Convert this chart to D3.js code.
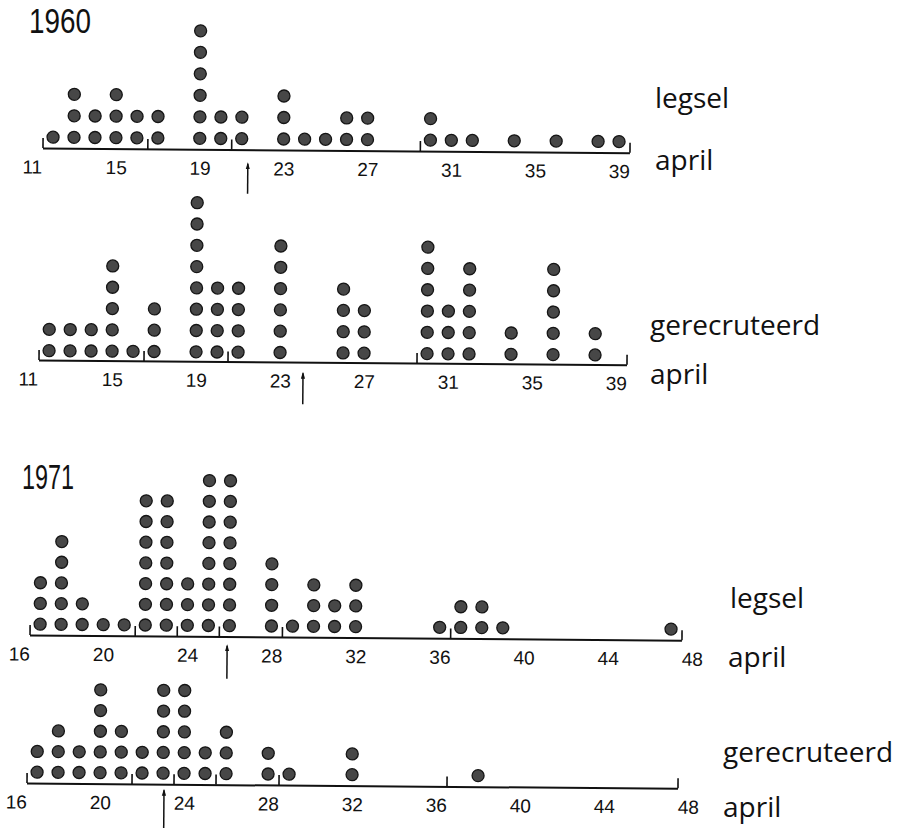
<!DOCTYPE html>
<html>
<head>
<meta charset="utf-8">
<script src="https://cdn.jsdelivr.net/npm/d3@7"></script>
<style>
  body { margin: 0; background: #fff; }
  svg { display: block; }
  .tick text { font-family: "Liberation Sans", Arial, sans-serif; font-size: 19px; fill: #111; }
  .side { font-family: "Open Sans", "Noto Sans", sans-serif; font-size: 28px; fill: #111; }
  .year { font-family: "Liberation Sans", Arial, sans-serif; font-size: 35px; fill: #111; }
</style>
</head>
<body>
<div id="chart"></div>
<script>
var width = 908,
    height = 828;

// 1960
var labels1960 = [11, 15, 19, 23, 27, 31, 35, 39];
var breaks1960 = [11.5, 16.5, 20.5, 29.5, 39.5];
var legselDays1960 = [12, 13, 14, 15, 16, 17, 19, 20, 21, 23, 24, 25, 26, 27, 30, 31, 32, 34, 36, 38, 39];
var legselCounts1960 = [1, 3, 2, 3, 2, 2, 6, 2, 2, 3, 1, 1, 2, 2, 2, 1, 1, 1, 1, 1, 1];
var recrDays1960 = [12, 13, 14, 15, 16, 17, 19, 20, 21, 23, 26, 27, 30, 31, 32, 34, 36, 38];
var recrCounts1960 = [2, 2, 2, 5, 1, 3, 8, 4, 4, 6, 4, 3, 6, 3, 5, 2, 5, 2];

// 1971
var labels1971 = [16, 20, 24, 28, 32, 36, 40, 44, 48];
var breaks1971 = [16.5, 21.5, 23.5, 25.5, 28.5, 36.5, 47.5];
var legselDays1971 = [17, 18, 19, 20, 21, 22, 23, 24, 25, 26, 28, 29, 30, 31, 32, 36, 37, 38, 39, 47];
var legselCounts1971 = [3, 5, 2, 1, 1, 7, 7, 3, 8, 8, 4, 1, 3, 2, 3, 1, 2, 2, 1, 1];
var recrDays1971 = [17, 18, 19, 20, 21, 22, 23, 24, 25, 26, 28, 29, 32, 38];
var recrCounts1971 = [2, 3, 2, 5, 3, 2, 5, 5, 2, 3, 2, 1, 2, 1];

// arrow dates (one per panel)
var arrowDays = [21.3, 24.1, 25.9, 23.05];

var svg = d3.select("#chart").append("svg")
    .attr("width", width)
    .attr("height", height);

var panels = [
  { days: legselDays1960, counts: legselCounts1960, labels: labels1960, breaks: breaks1960,
    domain: [11, 39], range: [32, 619], axisY: 148, dotGap: 11, step: 21.5,
    arrow: arrowDays[0], arrowTop: 12, arrowLen: 32,
    name: "legsel", nameX: 655, nameY: 108, aprilX: 655, aprilY: 170 },
  { days: recrDays1960, counts: recrCounts1960, labels: labels1960, breaks: breaks1960,
    domain: [11, 39], range: [28, 616], axisY: 360, dotGap: 9.5, step: 21.3,
    arrow: arrowDays[1], arrowTop: 9, arrowLen: 33,
    name: "gerecruteerd", nameX: 650, nameY: 335, aprilX: 650, aprilY: 384 },
  { days: legselDays1971, counts: legselCounts1971, labels: labels1971, breaks: breaks1971,
    domain: [16, 48], range: [19, 692], axisY: 635, dotGap: 11, step: 20.7,
    arrow: arrowDays[2], arrowTop: 7, arrowLen: 35,
    name: "legsel", nameX: 730, nameY: 608, aprilX: 728, aprilY: 667 },
  { days: recrDays1971, counts: recrCounts1971, labels: labels1971, breaks: breaks1971,
    domain: [16, 48], range: [16, 688], axisY: 783, dotGap: 11, step: 20.7,
    arrow: arrowDays[3], arrowTop: 4, arrowLen: 40,
    name: "gerecruteerd", nameX: 723, nameY: 762, aprilX: 723, aprilY: 817 }
];

// condensed year titles
svg.append("text").attr("class", "year").attr("x", 29).attr("y", 33)
    .attr("textLength", 62).attr("lengthAdjust", "spacingAndGlyphs").text("1960");
svg.append("text").attr("class", "year").attr("x", 22).attr("y", 489)
    .attr("textLength", 52).attr("lengthAdjust", "spacingAndGlyphs").text("1971");

svg.append("defs").append("marker")
    .attr("id", "arrowhead")
    .attr("viewBox", "-5 -10 10 10")
    .attr("refX", 0)
    .attr("refY", -8)
    .attr("markerWidth", 7)
    .attr("markerHeight", 7)
    .attr("orient", "0")
    .attr("markerUnits", "userSpaceOnUse")
  .append("path")
    .attr("d", "M -3,0 L 0,-10 L 3,0 Z")
    .attr("fill", "#111");

panels.forEach(function(p) {
  var x = d3.scaleLinear().domain(p.domain).range(p.range);

  // the scan is a little tilted, keep that
  var g = svg.append("g")
      .attr("transform", "translate(0," + p.axisY + ") rotate(0.45," + p.range[0] + ",0)");

  // line with break ticks
  var bx = d3.scaleLinear()
      .domain([p.breaks[0], p.breaks[p.breaks.length - 1]])
      .range([x(p.breaks[0]), x(p.breaks[p.breaks.length - 1])]);

  g.append("g")
      .call(d3.axisTop(bx).tickValues(p.breaks).tickSize(10).tickSizeOuter(0).tickFormat(""))
      .call(function(a) {
        a.select(".domain").attr("stroke", "#111").attr("stroke-width", 2);
        a.selectAll(".tick line").attr("stroke", "#111").attr("stroke-width", 1.6);
      });

  // day labels
  g.append("g")
      .call(d3.axisBottom(x).tickValues(p.labels).tickSize(0).tickPadding(12))
      .call(function(a) { a.select(".domain").remove(); });

  // stacked dots
  var dots = [];
  p.days.forEach(function(d, i) {
    d3.range(p.counts[i]).forEach(function(k) { dots.push({ day: d, k: k }); });
  });

  g.append("g").selectAll("circle")
      .data(dots)
      .enter().append("circle")
      .attr("cx", function(d) { return x(d.day); })
      .attr("cy", function(d) { return -p.dotGap - d.k * p.step; })
      .attr("r", 6)
      .attr("fill", "#474747")
      .attr("stroke", "#151515")
      .attr("stroke-width", 1.3);

  // arrow
  g.append("line")
      .attr("x1", x(p.arrow)).attr("x2", x(p.arrow))
      .attr("y1", p.arrowTop + p.arrowLen).attr("y2", p.arrowTop + 2)
      .attr("stroke", "#111")
      .attr("stroke-width", 1.5)
      .attr("marker-end", "url(#arrowhead)");

  svg.append("text").attr("class", "side").attr("x", p.nameX).attr("y", p.nameY).text(p.name);
  svg.append("text").attr("class", "side").attr("x", p.aprilX).attr("y", p.aprilY).text("april");
});
</script>
</body>
</html>
